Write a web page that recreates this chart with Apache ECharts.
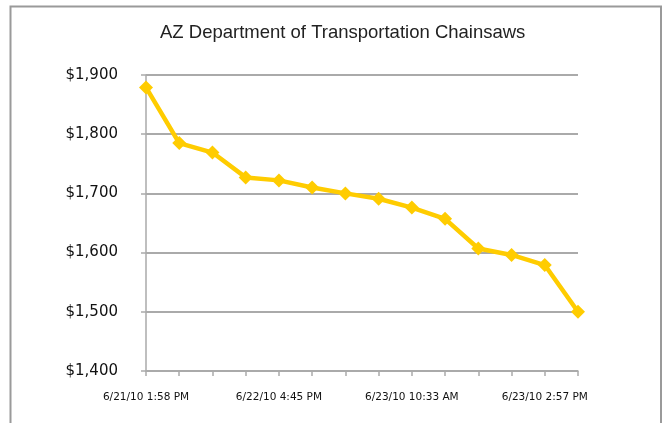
<!DOCTYPE html>
<html>
<head>
<meta charset="utf-8">
<script src="https://cdn.jsdelivr.net/npm/echarts@6/dist/echarts.min.js"></script>
<style>
  html, body { margin: 0; padding: 0; background: #fff; }
  #chart { width: 663px; height: 423px; }
</style>
</head>
<body>
<div id="chart"></div>
<script>
// only every 4th timestamp is printed on the axis; the rest are unknown
var categories = [
  '6/21/10 1:58 PM', '', '', '',
  '6/22/10 4:45 PM', '', '', '',
  '6/23/10 10:33 AM', '', '', '',
  '6/23/10 2:57 PM', ''
]
var prices = [1879, 1785, 1769, 1727, 1722, 1710, 1700, 1691, 1676, 1657, 1607, 1596, 1579, 1500]
var yTicks = [1400, 1500, 1600, 1700, 1800, 1900]

var myChart = echarts.init(document.getElementById('chart'))
var option = {
  animation: false,
  title: {
    text: 'AZ Department of Transportation Chainsaws',
    left: 155,
    top: 18,
    textStyle: {
      fontFamily: 'Liberation Sans',
      fontSize: 18.5,
      fontWeight: 'normal',
      color: '#222',
    },
  },
  graphic: [
    {
      type: 'rect',
      shape: { x: 10.5, y: 6.5, width: 650.5, height: 450 },
      style: { fill: 'none', stroke: '#9a9a9a', lineWidth: 2 },
      silent: true,
    },
  ],
  grid: {
    left: 146,
    right: 85,
    top: 75,
    bottom: 52,
  },
  xAxis: {
    type: 'category',
    data: categories,
    boundaryGap: false,
    axisLine: { lineStyle: { color: '#aaa', width: 1.5 } },
    axisTick: {
      show: true,
      interval: 0,
      length: 5,
      lineStyle: { color: '#aaa', width: 1.5 },
    },
    axisLabel: {
      interval: 3,
      margin: 21,
      fontFamily: 'DejaVu Sans',
      fontSize: 10.5,
      color: '#111',
    },
  },
  yAxis: {
    type: 'value',
    min: yTicks[0],
    max: yTicks[yTicks.length - 1],
    interval: 100,
    axisLine: { show: true, lineStyle: { color: '#aaa', width: 1.5 } },
    axisTick: { show: true, length: 5, lineStyle: { color: '#aaa', width: 1.5 } },
    splitLine: { lineStyle: { color: '#aaa', width: 2 } },
    axisLabel: {
      margin: 28,
      fontFamily: 'DejaVu Sans',
      fontSize: 15,
      color: '#111',
      formatter: function (v) {
        return '$' + v.toLocaleString('en-US')
      },
    },
  },
  series: [
    {
      type: 'line',
      data: prices,
      symbol: 'diamond',
      symbolSize: 14,
      lineStyle: { color: '#FFCC00', width: 4.5 },
      itemStyle: { color: '#FFCC00' },
    },
  ],
}
myChart.setOption(option)
</script>
</body>
</html>
